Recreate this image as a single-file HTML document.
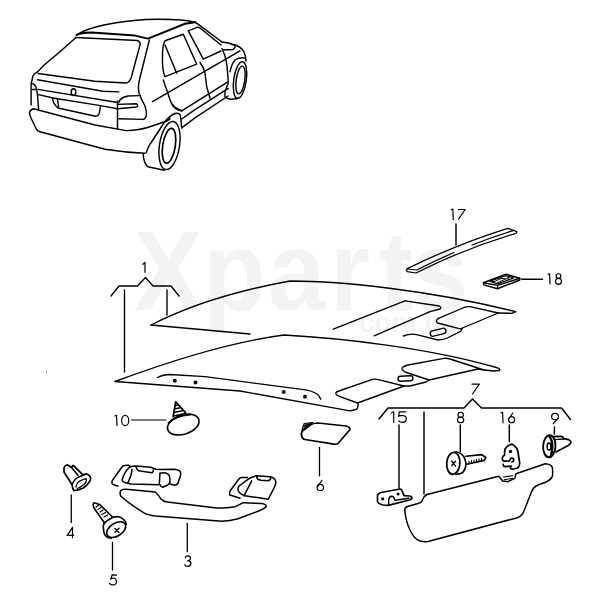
<!DOCTYPE html>
<html><head><meta charset="utf-8">
<style>
html,body{margin:0;padding:0;background:#fff;}
svg{display:block;}
text{font-family:"Liberation Sans",sans-serif;font-size:14.5px;fill:#000;}
.wm{font-family:"Liberation Sans",sans-serif;font-weight:bold;fill:#f3f3f3;}
</style></head>
<body>
<svg width="600" height="600" viewBox="0 0 600 600">
<rect width="600" height="600" fill="#fff"/>
<!-- watermark -->
<text class="wm" transform="translate(134,310) scale(0.95,1.04)" style="font-size:108px">X</text><text class="wm" transform="translate(203,310) scale(0.95,1.04)" style="font-size:108px">p</text><text class="wm" transform="translate(268,310) scale(0.95,1.04)" style="font-size:108px">a</text><text class="wm" transform="translate(330,310) scale(0.95,1.04)" style="font-size:108px">r</text><text class="wm" transform="translate(379,310) scale(0.95,1.04)" style="font-size:108px">t</text><text class="wm" transform="translate(411,310) scale(0.95,1.04)" style="font-size:108px">s</text>
<text class="wm" x="359" y="332" style="font-size:28px">com.ua</text>

<g fill="none" stroke="#000" stroke-width="1.45" stroke-linecap="round" stroke-linejoin="round">
<!-- CAR -->
<path d="M77,34.5 C88,28 110,22 146,19.5 C165,19 185,19.5 195.5,22.5"/>
<path d="M76.5,35 Q80,33 91.7,32.6 L135,35.6 L148,38.6 L185,23.7 L195,22.3" stroke-width="2"/>
<path d="M76,37.5 L137.5,40.5 Q141,42.5 140,45 L131.25,77.5 Q129,83 126,83 L95,81.25 L38,73.5"/>
<path d="M76,37.5 Q60,52 44.25,65 L37.4,71.9 Q33,74 32.5,78 L31.1,84 L31.1,105"/>
<path d="M149.4,40 L140,77.5 Q137.5,86 139,93 Q141,99 145,106 Q147,112 146.25,116.25 Q145,119.5 142.5,119.4 L118.75,118.75"/>
<path d="M37.4,79.75 L103,91.25 L118.75,91.9"/>
<path d="M38,89.4 L117.5,102.5"/>
<path d="M37.4,94.4 L53,98 L100.5,105.6 L117.5,108.75"/>
<path d="M118.75,102.5 Q120,97.5 128,96 L138.75,95.6"/>
<path d="M117.5,104.4 L136.25,103.75 Q139,105 136.5,107 L117.5,108.75"/>
<path d="M117.5,101 L117.5,128.75"/>
<ellipse cx="73.5" cy="92.2" rx="2.3" ry="3.4"/>
<path d="M57.4,98.75 L58.6,106.9"/>
<path d="M52.4,97.75 Q53,104 58,108 L95.5,116.25 Q99,116 99.5,112 L100.5,106"/>
<path d="M32.4,83.75 Q36,84.5 36.75,90 L37.4,93.75 L38.6,109.4 M32.4,89.4 L36.75,89.4"/>
<path d="M33.6,108.75 Q29.5,110 29.5,113 Q30,116 31,118 L36.5,129.5 Q37.5,131 40,131.8 L105,149.3 Q125,152.5 145,153.3"/>
<path d="M33.6,108.75 L95,125 L126.25,130.6 Q140,130 147.5,127.5 L162.5,122.5 Q168,121 170,118.75"/>
<path d="M146.25,152.5 Q149,145 151.25,142.5 Q158,132 164.2,122.5 Q170,115 175.8,113.2 Q180,113 180.5,116 L181.7,128"/>
<path d="M143.2,154 Q143.5,163 147.8,166.8 L164.2,170.3"/>
<ellipse cx="169.5" cy="145.5" rx="10" ry="24.3" transform="rotate(9 169.5 145.5)"/>
<ellipse cx="169" cy="145.8" rx="6.3" ry="17.6" transform="rotate(9 169 145.8)" stroke-width="1.7"/>
<!-- side -->
<path d="M195,21.8 L222,42"/>

<path d="M165,40.8 L183.3,34.2 L196.7,64.2 L165,76.7 Q162,70 162.5,55 Q162.5,45 165,40.8"/>
<path d="M165,45 L176.7,73.3"/>
<path d="M188.3,30.8 L197,27.3 Q198.5,27 200,28 L221,45"/>
<path d="M221,51 L203.3,59.2 L188.3,30.8"/>
<path d="M222,42 Q229,42.5 234,45 Q236.5,47 233,49.5 L223,50 Q222,49.5 222,48.5"/>
<path d="M234,44.5 Q241,46.5 244,52 Q246,56 246,61"/>
<path d="M152.5,101.7 L240,50.8"/>
<path d="M163.3,80 Q165,86 167.5,91.7 L170,100 Q172,107 181.7,110.8"/>
<path d="M200,62.5 Q204,68 205,73.3 L206.7,86.7 L210,98.3"/>
<path d="M223,51 Q225,55 226,60 L227,66 L228.3,81.7"/>
<path d="M181.7,110.8 L228.3,81.7"/>
<path d="M181.7,119 L195,109.7 L228.3,88.3"/>
<path d="M181.7,127.8 L195,117.8 L228,96"/>
<ellipse cx="240" cy="80" rx="6.3" ry="18.5" transform="rotate(8 240 80)"/>
<ellipse cx="240.5" cy="80" rx="4.3" ry="14" transform="rotate(8 240.5 80)"/>
<path d="M228.3,83.3 Q224,92 225,96.7 Q227,99 232,99.2 L238,98.5"/>
<path d="M230,71.7 Q232,63 235,60 Q240,57 245,58"/>
<path d="M172.3,105 Q176,110 181.7,110.8"/>

<g stroke-width="1.35">
<!-- label 1 bracket -->
<path d="M111,296 L119,286 L137.5,286 L145.5,277.5 L153,286 L171,286 L179,296"/>
<path d="M124.5,290 L124.5,372"/>
<path d="M167,290 L167,315"/>

<!-- upper headliner -->
<path d="M151,325 C190,305 240,290 290,281 C340,281 430,290 515.8,311.7 L511.7,313.3 L498.3,313"/>
<path d="M151,325 L250,334"/>
<path d="M333.3,329.2 L405,300.8 L439.3,306 Q442,307.5 440,309 L430,311.7 L374.2,335.8"/>
<path d="M498.3,313 L470,306.7 Q467,306.5 464,307.5 L438,318.7 Q435,321 437.5,323 L459.3,328.7 Q461,329 462.5,328 L498.3,313"/>
<path d="M462.5,328 L460.7,331.3 L447.3,338 Q443,340 438,340 L416.7,334.7 Q411,333 403.3,336"/>
<rect x="430" y="329.5" width="16" height="5.5" rx="2.7" transform="rotate(-14 438 332)"/>

<!-- lower headliner -->
<path d="M115,381.5 C170,361 230,342 284,335 C340,338 430,348 498,368 Q501,369.5 499,370.5 L494,371 L484,370"/>
<path d="M115,381.5 L240,391 L350,410.8 Q357,410 357.5,408 L358.3,404.2 L357.5,403"/>
<path d="M157.5,377.5 Q163,374.5 170,374.5 L205,376.7 L300,389.2 Q312,390 318.3,395 L320.8,399.2"/>
<path d="M357.5,403 L340,396.7 Q334,394.5 336.5,392 L341.7,390 L373.3,379.2 Q376,379 378.3,379.7 L404,386 L410,386 L426,382 L429,380"/>
<path d="M357.5,403 L400,387.5 L404,386"/>
<path d="M484,370 L450,359 Q447,358 444,358.4 L408,365 Q401,367 402,369 Q403,371 405,372 L426,379 L429,380 L478,369 L484,370"/>
<rect x="398" y="376" width="15" height="5" rx="2.5" transform="rotate(-3 405 378.5)"/>
</g>
</g>
<g fill="#000">
<circle cx="174.8" cy="380.8" r="2"/>
<circle cx="195.5" cy="382.5" r="2"/>
<circle cx="283.7" cy="392" r="2"/>
<circle cx="305" cy="396.8" r="2"/>
</g>

<g fill="none" stroke="#000" stroke-width="1.45" stroke-linecap="round" stroke-linejoin="round">
<!-- 17 strip -->
<path d="M456,224 L456,245"/>
<path d="M407.3,268.6 Q405.8,270 407.3,271.7 L416,273 Q466,247.85 516,233.3 Q517.5,231.5 516.3,231.3 L507.7,228.3 Q457.2,244.1 407.3,268.6 Z" stroke-width="1.25"/>
<path d="M407.3,269 L416.7,270 Q435.5,260.5 454.0,252.5 M472.0,245.0 Q492.7,236.9 513.0,230.7" stroke-width="1.25"/>
<!-- 18 plate -->
<path d="M483.4,282.75 L505.9,274.1 L519.8,278.25 L497.6,285.4 Z" stroke-width="1.4"/>
<path d="M483.4,282.75 L483.75,284.8 L497.6,288.75 L519.8,280 L519.8,278.25" stroke-width="1.4"/>
<path d="M497.6,285.4 L497.6,288.75" stroke-width="1.2"/>
<path d="M489.75,281.25 L505.9,275.6 L513.75,277.9 L497.6,283.9 Z" stroke-width="1.2"/>
<path d="M494.5,281.5 L501,278.5 L508.5,279 M497,283 L505,279.3" stroke-width="1"/>
<circle cx="493" cy="281.6" r="1.1" fill="#000" stroke="none"/>
<circle cx="508.5" cy="277.6" r="1.1" fill="#000" stroke="none"/>
<path d="M521.7,279.2 L542.5,279.2"/>
<!-- 7 bracket -->
<path d="M379,419 L388,408 L464,408 L472.5,399 L481.5,408 L561.5,408 L570.5,419.5"/>
<path d="M399,425 L399,488"/>
<path d="M424,412 L424,494"/>
<path d="M460.3,425 L460.3,451.7"/>
<path d="M509.3,425 L509.3,441.5"/>
<path d="M554.5,427 L554.3,434"/>
</g>
<g fill="none" stroke="#000" stroke-width="1.5" stroke-linecap="round" stroke-linejoin="round">
<!-- sun visor -->
<path d="M406.7,506.7 Q404,508 405,512 Q406,522 410,530 Q414,539 420,541 Q424,542 428,541.5 L517.3,517.7 Q522,516 524,511 L530.7,493.7 Q533,487 538,485 L546.7,481.7 Q552,479 552.7,475 L552.5,468 Q551.5,464 545.3,463.7 L516,473.7 Q515,478 514.7,478.3 L508,481.7 L502.7,481 L498.7,476.3 L430,493.7 Q426,494 424,497 L422,501 Q421,503 418,503.5 Z"/>
<path d="M503.3,477 L512.7,475.7 M504,479.7 L512.7,478.3" stroke-width="1.1"/>
<!-- screw 8 -->
<ellipse cx="453.3" cy="463.3" rx="6.6" ry="11" transform="rotate(4 453.3 463.3)" stroke-width="1.8"/>
<path d="M455.8,451.8 Q461,452.5 464,457 Q466.5,462 465.8,466 Q464.5,472 461,473.5 L456,474.4" stroke-width="1.6"/>
<path d="M465.8,456.25 L481.7,454.6 L485.8,457.5 L484.2,460.4 L466.7,464.2" stroke-width="1.6"/>
<path d="M469,463.5 L469,461.1 M471.5,463.0 L471.5,460.6 M474,462.4 L474,460.0 M476.5,461.9 L476.5,459.5 M479,461.3 L479,458.9 M481.5,460.8 L481.5,458.4" stroke-width="1.1"/>
<path d="M451.5,461 L455.5,466 M455.5,461.3 L451.8,465.5" stroke-width="1.3"/>
<!-- clip 16 -->
<path d="M503.2,464.3 Q503.5,466.8 505,466.6 L511.5,466 Q510,467.2 510.6,468.5 Q511.5,469.5 513.5,469 L517.5,468 Q520,466.5 519.6,462.5 L517.9,451.5 Q516.8,447.5 514.8,446.2 L512.2,444.2 Q508.5,445 506.7,446.8 Q504.6,448.8 504.6,451.5 L504.6,454.9 Q502.8,456 502.3,458 Q502,460.3 503.8,461.2 L509.6,460.8 Q510,458.3 511.6,458 Q513.8,458.3 513.8,460 Q513.6,461.6 512,462" stroke-width="1.7"/>
<circle cx="510.5" cy="451.4" r="1.7" fill="#000" stroke="none"/>
<!-- clip 9 -->
<ellipse cx="549.3" cy="446.2" rx="6.2" ry="11" transform="rotate(3 549.3 446.2)" stroke-width="1.9"/>
<path d="M549,435.5 Q552.3,440 552.3,446 Q552.3,452 550.5,457" stroke-width="2.4"/>
<ellipse cx="549" cy="446.5" rx="1.9" ry="3.6" stroke-width="1.5"/>
<path d="M553.3,436.7 L561.3,436.3 Q563,437 564,438.7 L568.7,439.7 Q571.5,441 570.7,443 L568.7,445.3 L556,452" stroke-width="1.7"/>
<path d="M554.7,439.7 L564,439" stroke-width="1.3"/>
<!-- clip 15 -->
<path d="M377.5,495 Q378,493.5 381,492.5 L399.9,489 Q401.5,489 402,490.5 L404,495.6 L409.7,496 Q412.5,497 411.8,498.3 Q411,499.5 410.4,499.8 L392.2,504.4 L388,505.4 L383,505 Q378,503.5 377.5,501.6 Z" stroke-width="1.7"/>
<path d="M388.7,504.4 L388.7,499.5 Q389.5,496.5 391.5,496.3 Q394,496.5 394.5,499 L395,500.2 L409,498.2" stroke-width="1.5"/>
<circle cx="382.7" cy="498.8" r="1.6" fill="#000" stroke="none"/>
<circle cx="398.1" cy="493.9" r="1.5" fill="#000" stroke="none"/>
<!-- 10 -->
<path d="M131.6,420 L166,420" stroke-width="1.2"/>
<ellipse cx="183.3" cy="424.6" rx="16.3" ry="9.6" transform="rotate(-18 183.3 424.6)" stroke-width="1.6"/>
<path d="M168.5,423 Q175,416 190,414.5" stroke-width="1.9"/>
<path d="M173.1,416.75 L175.75,401.75 L185.5,412.6" stroke-width="1.7"/>
<path d="M175.5,405.5 L178.5,404.7 M174.6,409 L181,407.5 M174,412.5 L183.3,410.5 M173.5,416 L185.5,413.5" stroke-width="1.3"/>
<!-- 4 -->
<path d="M64,468 Q64.5,465.5 67.3,464.7 L71.3,467.3 L73.3,465.3 L82.7,474.7 L86.7,474 Q90.5,475.5 90.7,479 Q89,484 83.3,488 Q78,490.5 74,490.7 Q72.5,489 72,484.7 L64,472 Z" stroke-width="1.7"/>
<path d="M71.3,467.3 L78,475.3" stroke-width="1.5"/>
<path d="M72,484.7 Q74.5,479 78,477.3 Q84,475 86.7,474" stroke-width="1.5"/>
<path d="M76,487 Q77,482 80.5,480.5 Q84,479.5 86,478.5 Q87.5,481 84,484.5 Q80,487.5 77.5,488.5" stroke-width="1.3"/>
<path d="M71.25,495 L71.25,522.5" stroke-width="1.3"/>
<!-- 5 -->
<path d="M100,504.7 L112.7,517.3 M94,508 L104.7,523.3 M93.3,504 Q93.5,502.5 95,503 L100,504.7 M93.3,504 Q93,506 94,508" stroke-width="1.6"/>
<path d="M96,507 L98.5,505.5 M98,509.5 L101,507.5 M100,512 L103,510 M102,514.5 L105.5,512.5 M104,517 L107.5,515" stroke-width="1.2"/>
<path d="M103.3,526 Q104,522.5 105.3,522 L112.7,517.3 Q116,516.5 118.7,516.7 Q122,517.5 124,520 Q126.5,522 126,524.7" stroke-width="1.6"/>
<ellipse cx="116.2" cy="529.6" rx="10.6" ry="6.4" transform="rotate(-33 116.2 529.6)" stroke-width="1.6"/>
<path d="M103.3,526.7 Q103.5,532 104.7,534.7 Q107,538 111.3,538.3" stroke-width="1.6"/>
<path d="M115,528.5 L119,532.5 M119,528.3 L115,532.2" stroke-width="1.4"/>
<path d="M112.5,542.5 L112.5,570" stroke-width="1.3"/>
<!-- 3 handle -->
<path d="M120.7,490.7 Q122,489 126,489.3 L155.3,492 Q158,494 160.7,498.7 Q163,501.5 167.3,501.9 L216.7,508 Q228,508 235.3,506.7 L243.3,502.7 L262,503.5 Q267,504.5 266,506.7 Q264,509 259.3,510.7 L238,518.7 Q230,521 222,521.3 L155.3,516 Q148,515 144.7,513.3 Q128,503 120.7,496 Q119.5,493 120.7,490.7 Z"/>
<path d="M118,486 Q113,485 112,483.3 Q111.5,481.5 112.7,480 L122.7,466 Q125,465 128.7,465.3 L130,466.4"/>
<path d="M129.3,467.3 Q126,470 124,474.7 L122,480 Q123,482 125.3,482.7 L130.7,484 L160,484.7 Q161,487 162.7,487.3 L167.3,485.3 Q169.5,484 170,482 Q170,476 168.7,474.7 Q166,472.5 164,472.7 L160,473.3"/>
<path d="M129.3,467.3 Q132,466 136,466 L150.7,467.3 L156,469.3 L160,469.6 L174.7,469.3 Q179,470 180,471.3 Q181,473 180.7,474.7 L178,483.3 Q176.5,485.3 174.7,485.3 L170,484"/>
<path d="M132,469.3 Q131.5,473 130.7,476 L128,482.7"/>
<path d="M136,466.7 Q137,470 138.7,470.7 L152,472.7 Q153.5,472 153.3,470"/>
<path d="M160,473.3 L159.3,484"/>
<path d="M230,495 Q229,493 230,491 L238.5,479.5 Q240,477.5 241.7,477.5 L247.5,477.5"/>
<path d="M238.3,490.8 Q237.5,488 239,486 L248.3,479.2 Q252,476.5 256.7,475.8 L270,476.7 Q275,477.5 275.8,481.7 Q276,484 274.5,487 L268.3,499.2 L245,495.8 Q240,494 238.3,490.8 Z"/>
<path d="M251.7,480.8 Q248,488 244,495.8"/>
<path d="M256.7,476.2 Q256.5,479.5 261,480.3 L268.5,480.8 Q271.5,479.5 270.5,476.8"/>
<path d="M230,495 L240,498.3"/>
<path d="M187.3,523.3 L187.3,551.7" stroke-width="1.3"/>
<!-- 6 -->
<path d="M301.7,435.8 Q300.5,433 303,430.5 L311,424.5 Q314,423 318,423 L346,426 Q350,427 350,429.5 L338.5,443 Q337,444.5 334,444.2 L305,439.5 Q302,438.5 301.7,435.8 Z" stroke-width="1.7"/>
<path d="M301.8,430.5 L304.2,423.5 L312.5,422.6 L302.5,430 Z" stroke-width="1.2"/>
<path d="M304.5,425 L310,423.5 L305,427.5 Z" fill="#000" stroke-width="0.8"/>
<path d="M319.5,447.5 L319.5,475.8" stroke-width="1.3"/>
</g>


<rect x="46" y="371.5" width="1" height="2" fill="#8a8a8a"/>
<!-- labels -->
<g fill="none" stroke="#000" stroke-width="1.2" stroke-linecap="round" stroke-linejoin="round">
<path d="M143,264.3 L145,262.4 L145,272.3"/>
<path d="M451.3,209.7 L452.9,209 L453.2,219.4 M458.3,209.5 L465.2,209.5 L458.6,219.2"/>
<path d="M548,274.3 L549.6,273.7 L550,284"/>
<circle cx="558.5" cy="276.1" r="2.35"/>
<circle cx="558.5" cy="281.3" r="3"/>
<path d="M472,384.2 L479.3,384.2 L472.5,394"/>
<path d="M391.3,413 L393.7,411.8 L393.7,422.3"/>
<path d="M405.7,411.9 L399.3,411.9 L398.7,416.3 Q400.5,415.3 402.3,415.3 Q406.3,415.6 406.3,418.8 Q406.2,422.4 402.3,422.4 Q399.8,422.4 398.6,420.9"/>
<ellipse cx="460.7" cy="414.7" rx="2.7" ry="2.45"/>
<ellipse cx="460.6" cy="420" rx="3.15" ry="2.75"/>
<path d="M501,412.8 L502.6,412.4 L503,422.8"/>
<path d="M512.7,413 L508.8,419"/>
<circle cx="511.6" cy="419.7" r="3.05"/>
<ellipse cx="555" cy="416.6" rx="3.4" ry="3.15"/>
<path d="M557.9,418.6 L553.3,423.5"/>
<path d="M114.8,416 L116.5,415.3 L117,425.7"/>
<ellipse cx="125.2" cy="420.5" rx="3.55" ry="5.1"/>
<path d="M73.8,535.3 L67.2,535.4 L72.5,527.3 L72.5,537.7"/>
<path d="M116.5,575.1 L112.2,574.8 L110.7,579.2 Q112,578 113.5,578 Q116.4,578.3 116.4,581.5 Q116.2,584.9 113,584.9 Q110.7,584.9 109.5,583.3"/>
<path d="M185.2,557.7 Q185.8,555.8 187.6,555.8 Q190.5,555.9 190.5,558.5 Q190.4,560.7 187.7,560.7 Q190.9,560.9 190.9,563.6 Q190.7,566.4 187.5,566.4 Q185.4,566.4 184.6,564.8"/>
<path d="M322,480.3 L317.4,486.6"/>
<circle cx="320.3" cy="487.5" r="3.2"/>
</g>
</svg>
</body></html>
